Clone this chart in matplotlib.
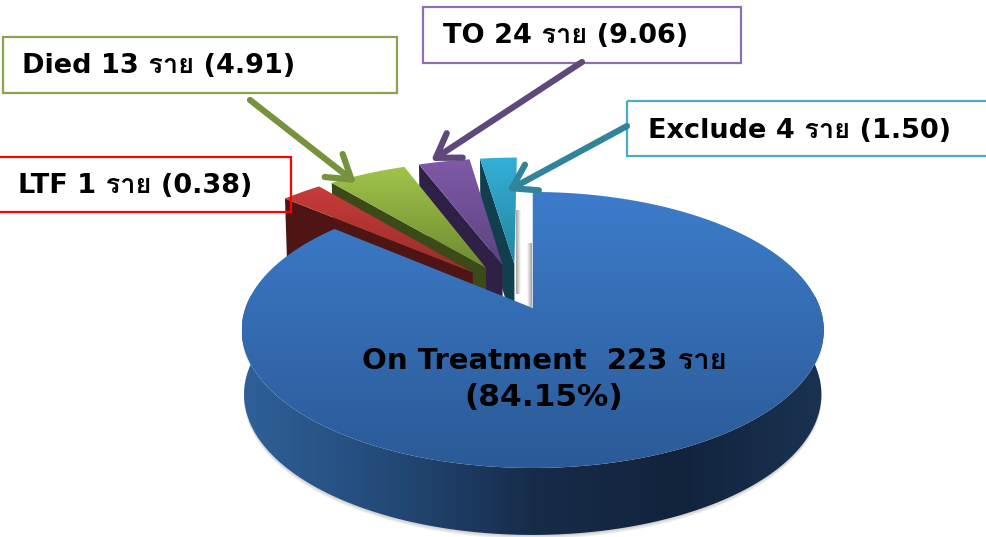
import numpy as np
import matplotlib
matplotlib.use('Agg')
import matplotlib.pyplot as plt
from matplotlib.colors import LinearSegmentedColormap
from matplotlib.patches import FancyArrowPatch, Polygon, Rectangle

CATEGORIES = ['Exclude', 'TO', 'Died', 'LTF', 'On Treatment']
COUNTS = [4, 24, 13, 1, 223]
PERCENT = ['1.50', '9.06', '4.91', '0.38', '84.15']
# slice sizes as they are drawn in the picture (% of the circle)
DRAWN_SHARE = [2.45, 3.42, 5.2, 2.7, 86.23]
EXPLODE = [0.24, 0.24, 0.24, 0.24, 0.117]

FACE = [('#33b0d6', '#2484a0'), ('#7f5aa8', '#5c4380'), ('#a0c44a', '#6f8a30'),
        ('#c83c3a', '#9a2c2a'), ('#3d7ccb', '#2b5a96')]
WALL = ['#123f4e', '#2e2145', '#3c4a1a', '#4f1514']
BOX = ['#4bacc6', '#8b6fb0', '#8aa353', '#ff0000']
ARROW = ['#31849b', '#5f497a', '#76923c']
FONT = ['DejaVu Sans', 'Loma', 'Noto Sans']


def top_plane(u, v):
    w = 1 + 0.159 * v
    return 533 + 287.3 * u / w, 308 - 134.5 * v / w


def low_plane(u, v):
    w = 1 + 0.159 * v
    return 533 + 285 * u / w, 372 - 137 * v / w


def gradient_fill(ax, xy, colors, horizontal=False, zorder=2):
    patch = Polygon(xy, closed=True, fc='none', ec='none', transform=ax.transData)
    ax.add_patch(patch)
    cmap = LinearSegmentedColormap.from_list('g', colors)
    x0, y0 = xy.min(axis=0)
    x1, y1 = xy.max(axis=0)
    grad = np.linspace(0, 1, 256)
    grad = grad.reshape(1, -1) if horizontal else grad.reshape(-1, 1)
    im = ax.imshow(grad, cmap=cmap, extent=(x0, x1, y1, y0), aspect='auto',
                   zorder=zorder, interpolation='bilinear')
    im.set_clip_path(patch)


fig = plt.figure(figsize=(9.87, 5.37), dpi=100)
ax = fig.add_axes([0, 0, 1, 1])

edges = np.concatenate([[0], np.cumsum(DRAWN_SHARE)])
edges = np.radians(edges * 360 / edges[-1])
center = np.array([-0.05, 0.106])

# soft shadows in the gap beside the main slice
gradient_fill(ax, np.array([(516, 210), (521, 210), (521, 294), (516, 294)], float),
              ['#a0a0a0', '#ffffff'], horizontal=True, zorder=1)
gradient_fill(ax, np.array([(527, 243), (532, 243), (532, 307), (527, 307)], float),
              ['#ffffff', '#a0a0a0'], horizontal=True, zorder=1)

# main slice, side wall first
th = np.linspace(edges[4], edges[5], 400)
apex = center + EXPLODE[4] * np.array([-np.sin((edges[4] + edges[5]) / 2),
                                       np.cos((edges[4] + edges[5]) / 2)])
u = apex[0] - np.sin(th)
v = apex[1] + np.cos(th)
keep = v < 0.1
tx, ty = top_plane(u[keep], v[keep])
lx, ly = low_plane(u[keep], v[keep])
wall = np.column_stack([np.r_[tx, lx[::-1]], np.r_[ty, ly[::-1]]])
for k in range(1, 5):
    ax.add_patch(Polygon(wall + [0, k], fc='#808080', ec='none', alpha=0.1, zorder=1))
gradient_fill(ax, wall, ['#2f6099', '#234a78', '#172c49', '#12233c', '#1a3352'],
              horizontal=True, zorder=2)

# small slices, back to front
for i in range(4):
    a, b = edges[i], edges[i + 1]
    mid = (a + b) / 2
    ap = center + EXPLODE[i] * np.array([-np.sin(mid), np.cos(mid)])
    th = np.linspace(a, b, 30)
    su = np.r_[ap[0], ap[0] - 1.015 * np.sin(th)]
    sv = np.r_[ap[1], ap[1] + 1.015 * np.cos(th)]
    x, y = top_plane(su, sv)
    x2, y2 = low_plane(su, sv)
    # wall along the left radial edge
    ax.add_patch(Polygon([(x[0], y[0]), (x[-1], y[-1]), (x2[-1], y2[-1]), (x2[0], y2[0])],
                         fc=WALL[i], ec='none', zorder=3 + i))
    gradient_fill(ax, np.column_stack([x, y]), FACE[i], zorder=3 + i)

# main slice top face
u_face = np.r_[apex[0], u]
v_face = np.r_[apex[1], v]
x, y = top_plane(u_face, v_face)
gradient_fill(ax, np.column_stack([x, y]), FACE[4], zorder=8)

# label boxes: outline stays over the pie, no fill so the slice shows through
boxes = [(627, 101, 380, 55), (423, 7, 318, 56), (3, 37, 394, 56), (-10, 157, 301, 55)]
for (bx, by, bw, bh), c in zip(boxes, BOX):
    ax.add_patch(Rectangle((bx, by), bw, bh, fc='none', ec=c, lw=1.6, zorder=9))

arrows = [((627, 126), (507, 191)), ((582, 62), (431, 161)), ((250, 100), (356, 183))]
for (p0, p1), c in zip(arrows, ARROW):
    ax.add_patch(FancyArrowPatch(p0, p1, arrowstyle='->,head_length=6.5,head_width=4.2',
                                 color=c, lw=4.5, shrinkA=0, shrinkB=0, zorder=10,
                                 mutation_scale=2.5))

pos = [(648, 131), (443, 36), (22, 66), (18, 186)]
for i in range(4):
    ax.text(pos[i][0], pos[i][1], f'{CATEGORIES[i]} {COUNTS[i]} ราย ({PERCENT[i]})',
            family=FONT, fontsize=19.5, fontweight='bold', va='center', zorder=11)
ax.text(544, 361, f'{CATEGORIES[4]}  {COUNTS[4]} ราย', family=FONT, fontsize=21,
        fontweight='bold', ha='center', va='center', zorder=11)
ax.text(544, 398, f'({PERCENT[4]}%)', family=FONT, fontsize=22.5, fontweight='bold',
        ha='center', va='center', zorder=11)

ax.set_xlim(0, 987)
ax.set_ylim(537, 0)
ax.axis('off')
fig.savefig('out.png', dpi=100)
